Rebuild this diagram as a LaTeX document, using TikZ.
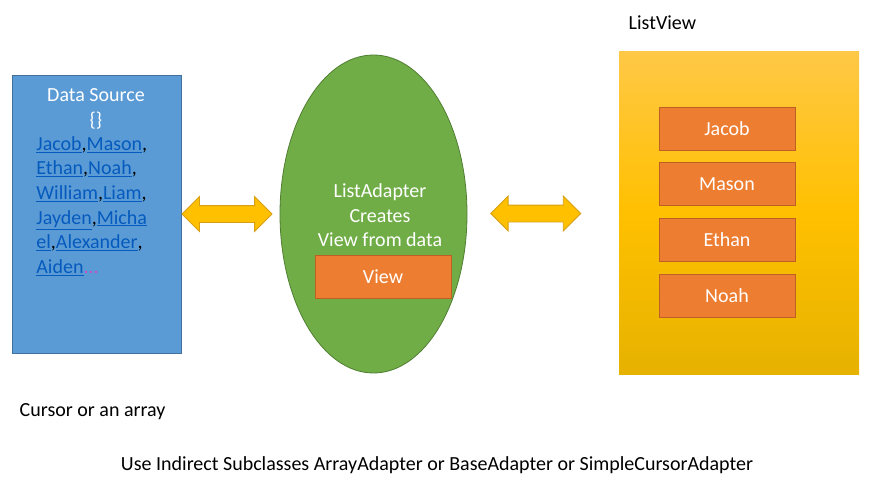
\documentclass[tikz,border=0pt]{standalone}
\usepackage{fontspec}
\setmainfont{Carlito}
\usepackage{tikz}
\usetikzlibrary{shapes.geometric, shapes.arrows, positioning, calc}
\definecolor{srcblue}{RGB}{91, 155, 213}
\definecolor{srcedge}{RGB}{65, 113, 156}
\definecolor{lnkblue}{RGB}{5, 90, 190}
\definecolor{adgreen}{RGB}{112, 173, 71}
\definecolor{adedge}{RGB}{80, 126, 50}
\definecolor{vworange}{RGB}{237, 125, 49}
\definecolor{vwedge}{RGB}{190, 95, 35}
\definecolor{arrfill}{RGB}{255, 192, 0}
\definecolor{arredge}{RGB}{215, 160, 20}
\definecolor{lvtop}{RGB}{255, 200, 70}
\definecolor{lvmid}{RGB}{255, 192, 0}
\definecolor{lvbot}{RGB}{230, 178, 0}
\definecolor{dots}{RGB}{200, 80, 200}
\newcommand{\lnk}[1]{\textcolor{lnkblue}{\underline{#1}}}

\begin{document}
\begin{tikzpicture}[x=1pt, y=-1pt, line width=0.8pt,
  every node/.style={font=\fontsize{20}{24}\selectfont},
  itembox/.style={draw=vwedge, fill=vworange, text=white, minimum width=136pt,
    minimum height=43pt, inner sep=0pt},
  dblarrow/.style={double arrow, draw=arredge, fill=arrfill, minimum height=90pt,
    minimum width=34pt, inner sep=8pt, double arrow head extend=9pt}]
  \useasboundingbox (0, 0) rectangle (872, 487);

  % Data source
  \node (src) [draw=srcedge, fill=srcblue, minimum width=169pt, minimum height=278pt,
    inner sep=0pt] at (96.5, 214) {};
  \node (srctitle) [text=white, align=center, font=\fontsize{20}{24.5}\selectfont]
    at (96, 109) {Data Source\\\{\}};
  \node (srclist) [anchor=north west, align=left, inner sep=0pt,
    font=\fontsize{20}{24.6}\selectfont] at (36, 136)
    {\lnk{Jacob},\lnk{Mason},\\
     \lnk{Ethan},\lnk{Noah},\\
     \lnk{William},\lnk{Liam},\\
     \lnk{Jayden},\lnk{Micha}\\
     \lnk{el},\lnk{Alexander},\\
     \lnk{Aiden}\textcolor{dots}{...}};

  % Adapter
  \node (adapter) [ellipse, draw=adedge, fill=adgreen, minimum width=187pt,
    minimum height=318pt, inner sep=0pt] at (373.5, 214) {};
  \node (adtext) [text=white, align=center, font=\fontsize{20}{24.5}\selectfont]
    at (380, 215.5) {ListAdapter\\Creates\\View from data};
  \node (view) [itembox] at (383, 277) {View};

  % ListView
  \shade [top color=lvtop, bottom color=lvbot, middle color=lvmid]
    (619, 52) rectangle (859, 374);
  \coordinate (lv) at (619, 213);
  \node (lvlabel) [anchor=west] at (625, 23) {ListView};
  \node (jacob) [itembox] at (727, 128.5) {Jacob};
  \node (mason) [itembox] at (727, 184) {Mason};
  \node (ethan) [itembox] at (727, 239.5) {Ethan};
  \node (noah) [itembox] at (727, 295.5) {Noah};

  % Arrows
  \node (arrleft) [dblarrow] at ($(src.east)!0.5!(adapter.west)+(-3.5,0)$) {};
  \node (arrright) [dblarrow] at ($(adapter.east)!0.5!(lv)+(-7.5,0)$) {};

  % Notes
  \node (cursor) [anchor=west] at (16, 412) {Cursor or an array};
  \node (note) at (437, 465)
    {Use Indirect Subclasses ArrayAdapter or BaseAdapter or SimpleCursorAdapter};
\end{tikzpicture}
\end{document}
